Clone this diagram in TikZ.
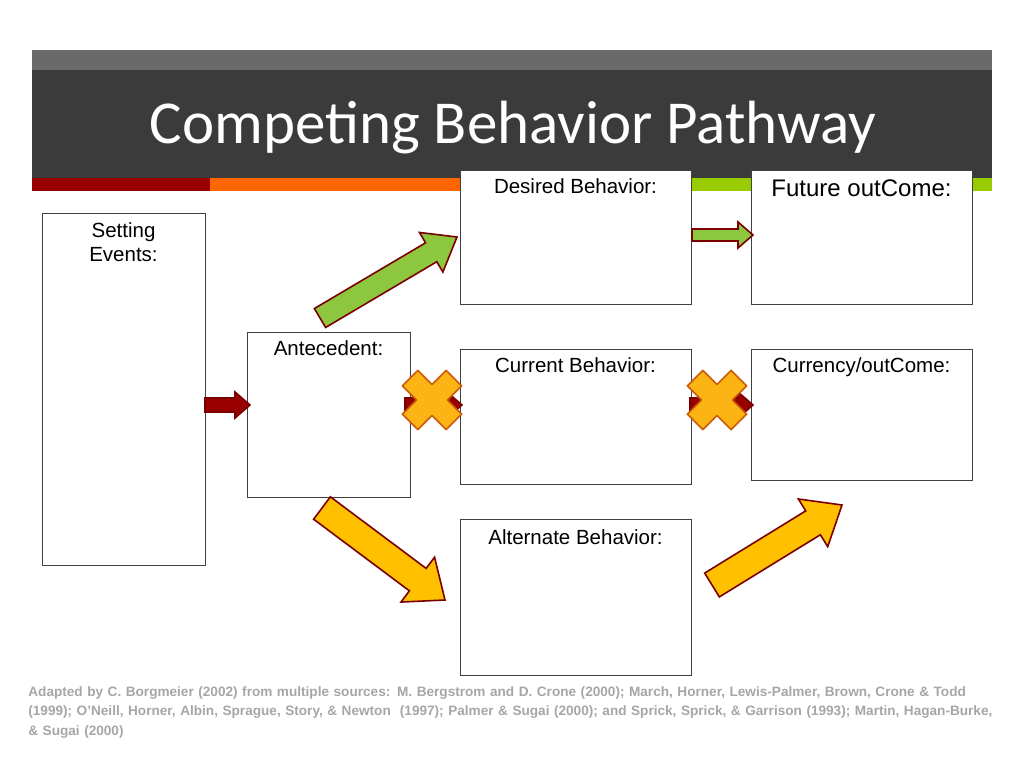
\documentclass[tikz,border=0pt]{standalone}
\usepackage{fontspec}
\setmainfont{Liberation Sans}
\newfontfamily\titlefont{Carlito}
\usetikzlibrary{calc}
\definecolor{bandgray}{HTML}{3B3B3B}
\definecolor{topgray}{HTML}{6A6A6A}
\definecolor{stripred}{HTML}{990000}
\definecolor{striporange}{HTML}{FF6600}
\definecolor{stripgreen}{HTML}{99CC00}
\definecolor{arrowgreen}{HTML}{8DC63F}
\definecolor{arrowgold}{HTML}{FFC000}
\definecolor{arrowred}{HTML}{990000}
\definecolor{edgered}{HTML}{7A0000}
\definecolor{crossfill}{HTML}{FBB414}
\definecolor{crossedge}{HTML}{C85A0A}
\definecolor{footgray}{HTML}{A6A6A6}

\tikzset{every picture/.style={line width=0.75pt}}
\tikzset{
  pathbox/.style={draw=black!75, fill=white, line width=0.8pt},
  boxlabel/.style={anchor=north, inner sep=0pt, font=\fontsize{20.5}{24}\selectfont, align=center},
  arrowbody/.style={draw=edgered, line width=1.6pt, line join=miter},
  crossmark/.style={draw=crossedge, fill=crossfill, line width=1.6pt, line join=round}
}
% block arrow: from, to, shaft half width, head half width, head length, fill
\newcommand{\blockarrow}[6]{%
  \draw[arrowbody, fill=#6] let \p1=(#1), \p2=(#2),
    \n1={atan2(\y2-\y1,\x2-\x1)}, \n2={veclen(\x2-\x1,\y2-\y1)} in
    [shift={(\p1)}, rotate=\n1]
    (0,-#3) -- (\n2-#5,-#3) -- (\n2-#5,-#4) -- (\n2,0) -- (\n2-#5,#4)
    -- (\n2-#5,#3) -- (0,#3) -- cycle;}
% cross mark at a point
\newcommand{\crossat}[1]{%
  \draw[crossmark, shift={(#1)}, rotate=45]
    (-11,-31) -- (11,-31) -- (11,-11) -- (31,-11) -- (31,11) -- (11,11) -- (11,31)
    -- (-11,31) -- (-11,11) -- (-31,11) -- (-31,-11) -- (-11,-11) -- cycle;}

\begin{document}
\begin{tikzpicture}[x=1pt,y=-1pt]
\useasboundingbox (0,0) rectangle (1024,768);

%Title band
\fill[bandgray] (32,50) rectangle (992,178);
\fill[topgray] (32,50) rectangle (992,70);
\fill[stripred] (32,178) rectangle (210,191);
\fill[striporange] (210,178) rectangle (490,191);
\fill[stripgreen] (490,178) rectangle (992,191);
\node (title) at (513,128) [text=white, font=\titlefont\fontsize{61}{66}\selectfont] {Competing Behavior Pathway};

%Boxes
\draw[pathbox] (42,213) rectangle (205,565);
\draw[pathbox] (247,332) rectangle (410,497);
\draw[pathbox] (460,170) rectangle (691,304);
\draw[pathbox] (460,349) rectangle (691,484);
\draw[pathbox] (460,519) rectangle (691,675);
\draw[pathbox] (751,170) rectangle (972,304);
\draw[pathbox] (751,349) rectangle (972,480);

% Text Node
\node (setting) at (123.5,222) [boxlabel] {Setting\\Events:};
\node (antecedent) at (328.5,340) [boxlabel] {Antecedent:};
\node (desired) at (575.5,178) [boxlabel] {Desired Behavior:};
\node (current) at (575.5,357) [boxlabel] {Current Behavior:};
\node (alternate) at (575.5,529) [boxlabel] {Alternate Behavior:};
\node (future) at (861.5,179) [boxlabel, font=\fontsize{24}{28}\selectfont] {Future outCome:};
\node (currency) at (861.5,357) [boxlabel] {Currency/outCome:};

%Arrow ends
\coordinate (se1) at (205,405); \coordinate (se2) at (250,405);
\coordinate (an1) at (405,405); \coordinate (an2) at (462,405);
\coordinate (cb1) at (690,405); \coordinate (cb2) at (753,405);
\coordinate (up1) at (320,318); \coordinate (up2) at (457,237);
\coordinate (db1) at (692,235); \coordinate (db2) at (753,235);
\coordinate (dn1) at (322,508); \coordinate (dn2) at (445,600);
\coordinate (ab1) at (712,585); \coordinate (ab2) at (842,505);

\blockarrow{se1}{se2}{7}{13}{15}{arrowred}
\blockarrow{an1}{an2}{7}{13}{15}{arrowred}
\blockarrow{cb1}{cb2}{7}{13}{15}{arrowred}
\blockarrow{up1}{up2}{11}{23}{30}{arrowgreen}
\blockarrow{db1}{db2}{6}{13}{15}{arrowgreen}
\blockarrow{dn1}{dn2}{14}{28}{34}{arrowgold}
\blockarrow{ab1}{ab2}{14}{28}{34}{arrowgold}

%Cross marks
\crossat{432,400}
\crossat{717,400}

% Footer
\node (source) at (28,686) [anchor=north west, inner sep=0pt, text width=980pt, align=left, text=footgray, font=\bfseries\fontsize{13.6}{19.5}\selectfont] {Adapted by C. Borgmeier (2002) from multiple sources: M. Bergstrom and D. Crone (2000); March, Horner, Lewis-Palmer, Brown, Crone \& Todd (1999); O'Neill, Horner, Albin, Sprague, Story, \& Newton\ \ (1997); Palmer \& Sugai (2000); and Sprick, Sprick, \& Garrison (1993); Martin, Hagan-Burke, \& Sugai (2000)};
\end{tikzpicture}
\end{document}
